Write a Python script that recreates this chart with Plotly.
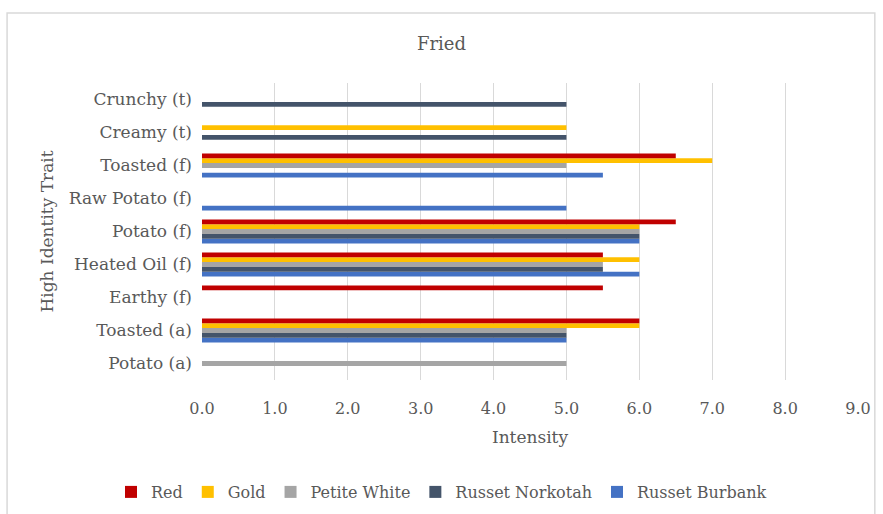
import plotly.graph_objects as go

# Traits, bottom to top on the category axis
traits = ["Potato (a)", "Toasted (a)", "Earthy (f)", "Heated Oil (f)", "Potato (f)",
          "Raw Potato (f)", "Toasted (f)", "Creamy (t)", "Crunchy (t)"]

# Intensity per variety (None = trait not identified for that variety)
red = [None, 6.0, 5.5, 5.5, 6.5, None, 6.5, None, None]
gold = [None, 6.0, None, 6.0, 6.0, None, 7.0, 5.0, None]
petite_white = [5.0, 5.0, None, 5.5, 6.0, None, 5.0, None, None]
russet_norkotah = [None, 5.0, None, 5.5, 6.0, None, None, 5.0, 5.0]
russet_burbank = [None, 5.0, None, 6.0, 6.0, 5.0, 5.5, None, None]

x_ticks = [0, 1, 2, 3, 4, 5, 6, 7, 8, 9]

series = [
    ("Red", red, "#C00000"),
    ("Gold", gold, "#FFC000"),
    ("Petite White", petite_white, "#A5A5A5"),
    ("Russet Norkotah", russet_norkotah, "#44546A"),
    ("Russet Burbank", russet_burbank, "#4472C4"),
]

FONT = "DejaVu Serif"
TXT = "#595959"

fig = go.Figure()
# Added in reverse so Red sits at the top of each group
for name, vals, color in reversed(series):
    fig.add_trace(go.Bar(
        y=traits, x=vals, name=name, orientation="h",
        marker=dict(color=color, line=dict(width=0)),
    ))

L, R, T, B = 202, 18, 83, 134
W, H = 883, 514
pw, ph = W - L - R, H - T - B

fig.update_layout(
    width=W, height=H,
    margin=dict(l=L, r=R, t=T, b=B),
    paper_bgcolor="white", plot_bgcolor="white",
    barmode="group", bargap=0.28, bargroupgap=0,
    font=dict(family=FONT, color=TXT, size=16),
    title=dict(text="Fried", x=0.5, xref="container",
               y=1 - 44 / H, yanchor="middle", xanchor="center",
               font=dict(size=18, color=TXT, family=FONT)),
    xaxis=dict(range=[0, 9], tickvals=x_ticks, tickformat=".1f",
               showgrid=True, gridcolor="#D9D9D9", gridwidth=1,
               zeroline=False, showline=False, ticks="",
               tickfont=dict(size=16, color=TXT), ticklabelstandoff=17,
               title=dict(text="Intensity", font=dict(size=17, color=TXT), standoff=14)),
    yaxis=dict(categoryorder="array", categoryarray=traits, showgrid=False,
               zeroline=False, showline=False, ticks="",
               tickfont=dict(size=17, color=TXT), ticklabelstandoff=9,
               title=dict(text="High Identity Trait", font=dict(size=17, color=TXT), standoff=10)),
    legend=dict(orientation="h", traceorder="reversed", x=0.5, xanchor="center",
                xref="container", y=1 - 492 / H, yref="container", yanchor="middle",
                font=dict(size=16, color=TXT), itemwidth=30),
    showlegend=True,
)

# Chart frame
fig.add_shape(type="rect", xref="paper", yref="paper",
              x0=(5 - L) / pw, x1=(882 - L) / pw,
              y0=-(H + 10 - (H - B)) / ph, y1=1 + (T - 13) / ph,
              line=dict(color="#D9D9D9", width=1.5), fillcolor="rgba(0,0,0,0)", layer="below")

fig.write_html("out.html")
